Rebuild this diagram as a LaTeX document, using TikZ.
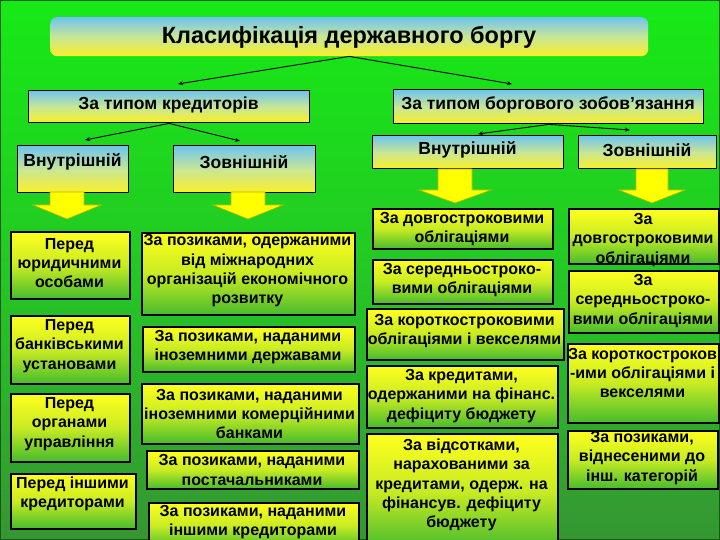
\documentclass[tikz,border=0pt]{standalone}
\usepackage{fontspec}
\setmainfont{Liberation Sans}
\usetikzlibrary{arrows.meta}
\definecolor{bgtop}{RGB}{22,234,22}
\definecolor{bgmid}{RGB}{36,200,36}
\definecolor{bgbot}{RGB}{54,150,50}
\definecolor{frame}{RGB}{20,90,20}
\definecolor{hblue}{RGB}{110,196,240}
\definecolor{hmid}{RGB}{200,230,150}
\definecolor{hyel}{RGB}{250,240,40}
\definecolor{cyel}{RGB}{255,255,30}
\definecolor{cmid}{RGB}{200,235,35}
\definecolor{cgreen}{RGB}{70,188,45}
\definecolor{arrfill}{RGB}{255,255,0}
\definecolor{arredge}{RGB}{190,180,0}
\newcommand{\boxat}[9]{%
  \node[#1, minimum width={(#6-#4)*1pt}, minimum height={(#7-#5)*1pt}, anchor=north west] (#3) at (#4,#5) {};
  \node[#2] (#3-t) at ({(#4+#6)/2},#8) {#9};
}
\newcommand{\blockdown}[6]{% cx, top, headtop, tip, half shaft, half head
  \filldraw[fill=arrfill, draw=arredge, line width=0.6pt]
    ({#1-#5},#2) -- ({#1+#5},#2) -- ({#1+#5},#3) -- ({#1+#6},#3) -- (#1,#4)
    -- ({#1-#6},#3) -- ({#1-#5},#3) -- cycle;
}
\begin{document}
\begin{tikzpicture}[x=1pt,y=-1pt,
  titlebox/.style={rounded corners=7pt, top color=hblue, bottom color=hyel, middle color=hmid, inner sep=0pt},
  titletxt/.style={font=\bfseries\fontsize{23.5}{27}\selectfont, text=black, inner sep=0pt},
  hdrbox/.style={draw=black, line width=1.4pt, top color=hblue, bottom color=hyel, middle color=hmid, inner sep=0pt},
  hdrtxt/.style={font=\bfseries\fontsize{17.5}{20}\selectfont, text=black, inner sep=0pt},
  cellbox/.style={draw=black, line width=1.6pt, top color=cyel, bottom color=cgreen, middle color=cmid, inner sep=0pt},
  celltxt/.style={font=\bfseries\fontsize{16}{19.3}\selectfont, text=black, align=center, inner sep=0pt},
  conn/.style={draw=black, line width=0.9pt, -{Stealth[length=5pt,width=4pt]}}
]
\path[clip] (0,0) rectangle (720,540);
\fill[top color=bgtop, bottom color=bgbot, middle color=bgmid] (0,0) rectangle (720,540);
\draw[frame, line width=2pt] (0,0) rectangle (720,540);

% title
\boxat{titlebox}{titletxt}{title}{50}{17}{648}{56}{37}{Класифікація державного боргу}

% headers
\boxat{hdrbox}{hdrtxt}{hk}{28}{90}{309}{122}{105}{За типом кредиторів}
\boxat{hdrbox}{hdrtxt}{hb}{393}{89}{703}{123}{105}{За типом боргового зобов'язання}
\boxat{hdrbox}{hdrtxt}{lin}{17}{145}{128}{192}{162}{Внутрішній}
\boxat{hdrbox}{hdrtxt}{lzov}{173}{145}{315}{192}{162}{Зовнішній}
\boxat{hdrbox}{hdrtxt}{rin}{372}{135}{563}{168}{150}{Внутрішній}
\boxat{hdrbox}{hdrtxt}{rzov}{578}{135}{716}{168}{150}{Зовнішній}

% connectors
\coordinate (t1) at (178,84);
\coordinate (t2) at (512,84);
\coordinate (k1) at (85,140);
\coordinate (k2) at (240,141);
\coordinate (b1) at (478,134);
\coordinate (b2) at (630,130);
\draw[conn] (title.south) -- (t1);
\draw[conn] (title.south) -- (t2);
\draw[conn] (hk.south) -- (k1);
\draw[conn] (hk.south) -- (k2);
\draw[conn] (hb.south) -- (b1);
\draw[conn] (hb.south) -- (b2);

% block arrows
\blockdown{67}{192}{205}{219}{17}{34}
\blockdown{248}{192}{205}{219}{17}{35}
\blockdown{455}{169}{190}{203}{17}{36}
\blockdown{652}{169}{190}{203}{16}{33}

% left column
\boxat{cellbox}{celltxt}{l1}{10}{231}{129}{298}{263}{Перед\\юридичними\\особами}
\boxat{cellbox}{celltxt}{l2}{10}{315}{129}{383}{346}{Перед\\банківськими\\установами}
\boxat{cellbox}{celltxt}{l3}{10}{393}{129}{461}{424}{Перед\\органами\\управління}
\boxat{cellbox}{celltxt}{l4}{10}{473}{135}{528}{494}{Перед іншими\\кредиторами}

% middle column
\boxat{cellbox}{celltxt}{m1}{141}{232}{354}{314}{271}{За позиками, одержаними\\від міжнародних\\організацій економічного\\розвитку}
\boxat{cellbox}{celltxt}{m2}{142}{326}{354}{371}{347}{За позиками, наданими\\іноземними державами}
\boxat{cellbox}{celltxt}{m3}{141}{383}{358}{443}{414}{За позиками, наданими\\іноземними комерційними\\банками}
\boxat{cellbox}{celltxt}{m4}{146}{450}{358}{488}{470}{За позиками, наданими\\постачальниками}
\boxat{cellbox}{celltxt}{m5}{148}{502}{358}{548}{522}{За позиками, наданими\\іншими кредиторами}

% right-middle column
\boxat{cellbox}{celltxt}{r1}{372}{208}{552}{248}{229}{За довгостроковими\\облігаціями}
\boxat{cellbox}{celltxt}{r2}{372}{259}{552}{303}{280}{За середньостроко-\\вими облігаціями}
\boxat{cellbox}{celltxt}{r3}{366}{308}{563}{359}{331}{За короткостроковими\\облігаціями і векселями}
\boxat{cellbox}{celltxt}{r4}{366}{365}{557}{427}{396}{За кредитами,\\одержаними на фінанс.\\дефіциту бюджету}
\boxat{cellbox}{celltxt}{r5}{366}{433}{557}{548}{485}{За відсотками,\\нарахованими за\\кредитами, одерж. на\\фінансув. дефіциту\\бюджету}

% right column
\boxat{cellbox}{celltxt}{s1}{568}{208}{718}{263}{240}{За\\довгостроковими\\облігаціями}
\boxat{cellbox}{celltxt}{s2}{568}{270}{718}{332}{301}{За\\середньостроко-\\вими облігаціями}
\boxat{cellbox}{celltxt}{s3}{567}{343}{718}{422}{373}{За короткостроков\\-ими облігаціями і\\векселями}
\boxat{cellbox}{celltxt}{s4}{567}{430}{717}{488}{458}{За позиками,\\віднесеними до\\інш. категорій}
\end{tikzpicture}
\end{document}
